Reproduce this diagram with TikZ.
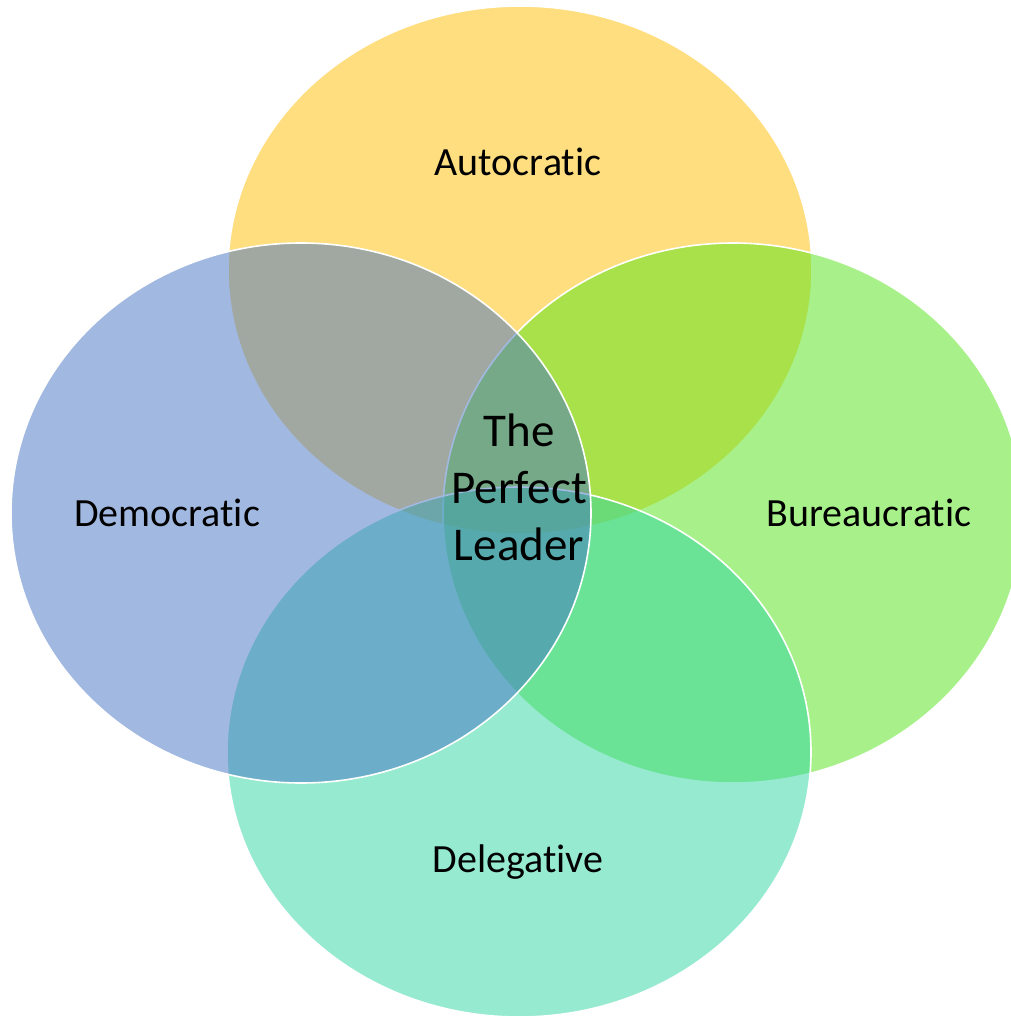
\documentclass[tikz,border=0pt]{standalone}
\usepackage{fontspec}
\setmainfont{Carlito}[RawFeature={-liga;-clig;-dlig}]
\definecolor{cyel}{RGB}{255,190,0}
\definecolor{cblu}{RGB}{68,114,196}
\definecolor{cgrn}{RGB}{82,229,22}
\definecolor{ctea}{RGB}{46,214,162}
\begin{document}
\begin{tikzpicture}[x=1pt,y=-1pt,
  venn/.style={draw=white, line width=1.6pt, fill opacity=0.5, draw opacity=1},
  lbl/.style={font=\fontsize{40}{48}\selectfont, text=black, inner sep=0pt},
  ctr/.style={font=\fontsize{47}{57}\selectfont, text=black, align=center, inner sep=0pt}]
\useasboundingbox (0,0) rectangle (1010,1019);
\fill[white] (0,0) rectangle (1010,1019);
\path[venn, fill=cyel] (520,270) ellipse [x radius=292, y radius=264];
\path[venn, fill=cgrn] (733,513) ellipse [x radius=290, y radius=270];
\path[venn, fill=ctea] (519,752) ellipse [x radius=292, y radius=265];
\path[venn, fill=cblu] (301,513) ellipse [x radius=290, y radius=270];
\node[lbl] (auto) at (518,162) {Autocratic};
\node[lbl] (demo) at (167,513) {Democratic};
\node[lbl] (bure) at (869,513) {Bureaucratic};
\node[lbl] (dele) at (518,862) {Delegative};
\node[ctr] (perf) at (519,487) {The\\Perfect\\Leader};
\end{tikzpicture}
\end{document}
